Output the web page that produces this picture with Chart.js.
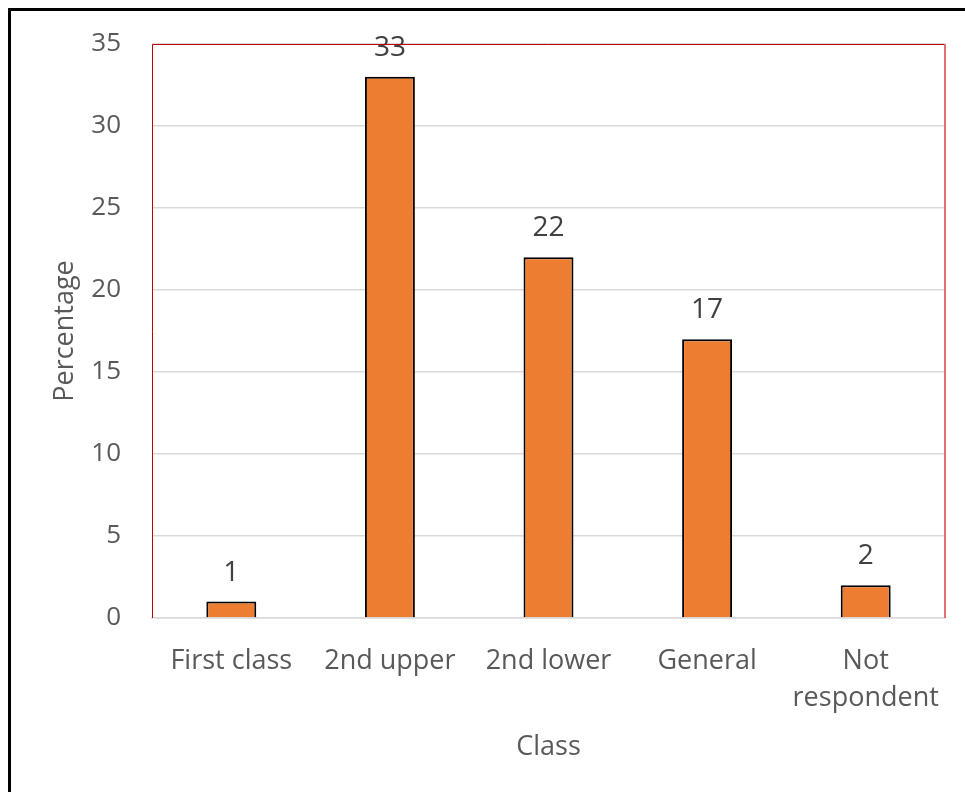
<!DOCTYPE html>
<html>
<head>
<meta charset="utf-8">
<script src="https://cdn.jsdelivr.net/npm/chart.js@4.4.0/dist/chart.umd.min.js"></script>
<style>
  html, body { margin: 0; padding: 0; background: #fff; }
  #frame {
    position: absolute; left: 8px; top: 8px; width: 1000px; height: 900px;
    border-left: 3px solid #000; border-top: 3px solid #000;
  }
  #wrap { position: absolute; left: 0; top: 0; width: 965px; height: 792px; }
</style>
</head>
<body>
<div id="frame"></div>
<div id="wrap"><canvas id="chart"></canvas></div>
<script>
// Data
var categories = ['First class', ['2nd upper'], ['2nd lower'], ['General'], ['Not', 'respondent']];
var percentages = [1, 33, 22, 17, 2];
var yTicks = [0, 5, 10, 15, 20, 25, 30, 35];

// Value labels above each bar
const valueLabels = {
    id: 'valueLabels',
    afterDatasetsDraw(chart) {
        const ctx = chart.ctx;
        const meta = chart.getDatasetMeta(0);
        ctx.save();
        ctx.font = '28px "Open Sans"';
        ctx.fillStyle = '#404040';
        ctx.textAlign = 'center';
        ctx.textBaseline = 'middle';
        meta.data.forEach(function (bar, i) {
            ctx.fillText(String(percentages[i]), bar.x, bar.y - 29);
        });
        ctx.restore();
    }
};

// Red frame around the plot area
const plotFrame = {
    id: 'plotFrame',
    afterDraw(chart) {
        const a = chart.chartArea;
        const ctx = chart.ctx;
        ctx.save();
        ctx.strokeStyle = '#c00000';
        ctx.lineWidth = 1;
        ctx.beginPath();
        ctx.moveTo(a.left + 0.5, a.bottom);
        ctx.lineTo(a.left + 0.5, a.top + 0.5);
        ctx.lineTo(a.right, a.top + 0.5);
        ctx.stroke();
        ctx.strokeStyle = '#e07070';
        ctx.lineWidth = 2;
        ctx.beginPath();
        ctx.moveTo(a.right, a.top);
        ctx.lineTo(a.right, a.bottom);
        ctx.stroke();
        ctx.restore();
    }
};

const ctx = document.getElementById('chart').getContext('2d');
const chart = new Chart(ctx, {
    type: 'bar',
    data: {
        labels: categories,
        datasets: [{
            label: 'Percentage',
            data: percentages,
            backgroundColor: '#ED7D31',
            borderColor: '#000000',
            borderWidth: 2,
            borderSkipped: 'bottom',
            barPercentage: 0.315,
            categoryPercentage: 1.0
        }]
    },
    options: {
        responsive: true,
        maintainAspectRatio: false,
        animation: false,
        layout: { padding: { left: 36, right: 20, top: 28, bottom: 24 } },
        plugins: {
            legend: { display: false },
            tooltip: { enabled: false }
        },
        scales: {
            x: {
                afterFit: function (scale) { scale.height = 150; },
                grid: { display: false },
                border: { color: '#d9d9d9', width: 1.5 },
                ticks: {
                    color: '#595959',
                    font: { family: 'Open Sans', size: 27, lineHeight: 1.4 },
                    padding: 16,
                    maxRotation: 0
                },
                title: {
                    display: true,
                    text: 'Class',
                    color: '#595959',
                    font: { family: 'Open Sans', size: 27 },
                    padding: { top: 4, bottom: 4 }
                }
            },
            y: {
                min: 0,
                max: 35,
                afterFit: function (scale) { scale.width = 116; },
                afterBuildTicks: function (axis) {
                    axis.ticks = yTicks.map(function (v) { return { value: v }; });
                },
                grid: { color: '#d9d9d9', lineWidth: 1.5, drawTicks: false },
                border: { display: false },
                ticks: {
                    color: '#595959',
                    font: { family: 'Open Sans', size: 26, lineHeight: 1.0 },
                    padding: 31
                },
                title: {
                    display: true,
                    text: 'Percentage',
                    color: '#595959',
                    font: { family: 'Open Sans', size: 27 },
                    padding: { top: 13, bottom: 4 }
                }
            }
        }
    },
    plugins: [valueLabels, plotFrame]
});
</script>
</body>
</html>
